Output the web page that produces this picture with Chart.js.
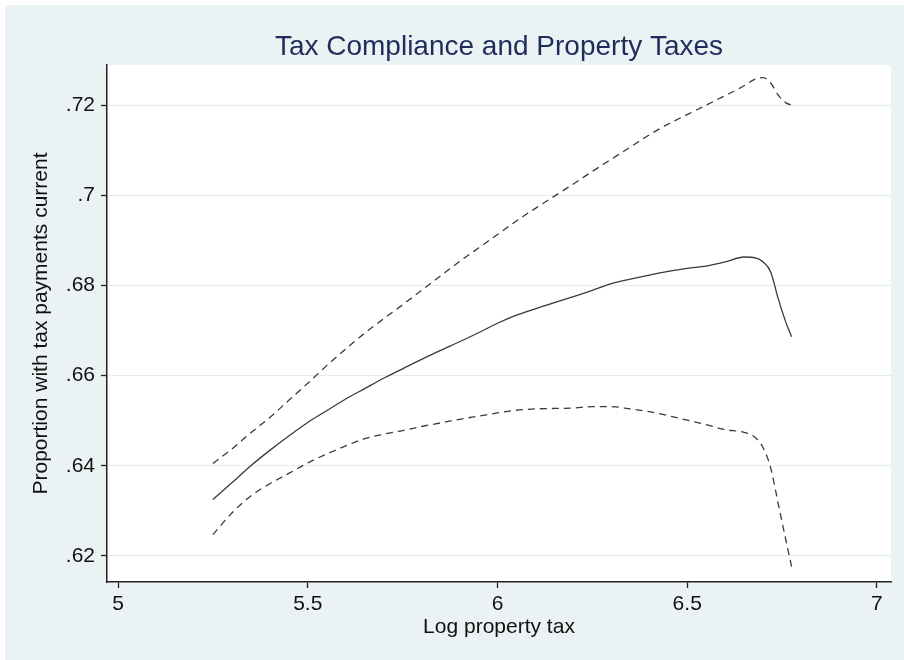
<!DOCTYPE html>
<html>
<head>
<meta charset="utf-8">
<script src="https://cdn.jsdelivr.net/npm/chart.js@4/dist/chart.umd.min.js"></script>
<style>
    html, body { margin: 0; padding: 0; background: #ffffff; }
    #wrap { position: absolute; left: 5px; top: 5px; width: 899px; height: 655px; }
</style>
</head>
<body>
<div id="wrap"><canvas id="taxChart" width="899" height="655"></canvas></div>
<script>
// Log property tax (x positions of the fitted curve)
const logTax = [5.25, 5.30, 5.35, 5.40, 5.45, 5.50, 5.55, 5.60, 5.65, 5.70, 5.75, 5.80,
    5.85, 5.90, 5.95, 6.00, 6.05, 6.10, 6.15, 6.20, 6.25, 6.30, 6.35, 6.40, 6.45, 6.50,
    6.55, 6.60, 6.65, 6.68, 6.70, 6.72, 6.74, 6.76, 6.775];

// upper band (dashed)
const upperBand = [.6405, .6437, .6473, .6507, .6545, .6583, .6622, .6659, .6694, .6726, .6757, .6789,
    .6821, .6853, .6883, .6913, .6943, .6971, .6998, .7025, .7053, .7080, .7107, .7134, .7158, .7179,
    .7200, .7221, .7243, .7258, .7261, .7249, .7222, .7205, .7200];

// fitted proportion (solid)
const fitted = [.6325, .6362, .6400, .6434, .6466, .6496, .6522, .6548, .6571, .6594, .6615, .6636,
    .6656, .6675, .6695, .6716, .6734, .6748, .6762, .6775, .6789, .6804, .6814, .6823, .6831, .6838,
    .6843, .6852, .6863, .6861, .6852, .6830, .6770, .6718, .6686];

// lower band (dashed)
const lowerBand = [.6247, .6295, .6333, .6360, .6383, .6406, .6426, .6444, .6460, .6470, .6478, .6487,
    .6495, .6503, .6510, .6517, .6523, .6526, .6527, .6528, .6531, .6531, .6526, .6520, .6511, .6501,
    .6491, .6480, .6474, .6462, .6440, .6395, .6315, .6235, .6176];

const xTicks = [5, 5.5, 6, 6.5, 7];
const yTicks = [.62, .64, .66, .68, .70, .72];
const yTickLabels = ['.62', '.64', '.66', '.68', '.7', '.72'];

const FONT = 'Liberation Sans, Arial, sans-serif';
const LINE = '#3a3a3a';
const AXIS = '#222222';

function pairs(ys) {
    return ys.map((y, i) => ({ x: logTax[i], y: y }));
}

// background: bluish gray outside, white plot region
const backdrop = {
    id: 'backdrop',
    beforeDraw(chart) {
        const ctx = chart.ctx;
        const a = chart.chartArea;
        ctx.save();
        ctx.fillStyle = '#eaf2f3';
        ctx.fillRect(0, 0, chart.width, chart.height);
        ctx.fillStyle = '#ffffff';
        ctx.fillRect(a.left, a.top, a.right - a.left, a.bottom - a.top);
        ctx.restore();
    }
};

const ctx = document.getElementById('taxChart').getContext('2d');
new Chart(ctx, {
    type: 'line',
    data: {
        datasets: [
            {
                label: 'Upper',
                data: pairs(upperBand),
                borderColor: LINE,
                borderWidth: 1.3,
                borderDash: [7, 5],
                pointRadius: 0,
                cubicInterpolationMode: 'monotone'
            },
            {
                label: 'Fitted',
                data: pairs(fitted),
                borderColor: LINE,
                borderWidth: 1.3,
                pointRadius: 0,
                cubicInterpolationMode: 'monotone'
            },
            {
                label: 'Lower',
                data: pairs(lowerBand),
                borderColor: LINE,
                borderWidth: 1.3,
                borderDash: [7, 5],
                pointRadius: 0,
                cubicInterpolationMode: 'monotone'
            }
        ]
    },
    options: {
        responsive: false,
        animation: false,
        devicePixelRatio: 1,
        layout: { padding: { top: 0, right: 13, bottom: 0, left: 0 } },
        plugins: {
            legend: { display: false },
            tooltip: { enabled: false },
            title: {
                display: true,
                fullSize: false,
                text: 'Tax Compliance and Property Taxes',
                color: '#1f2d5c',
                font: { family: FONT, size: 28, weight: 'normal' },
                padding: { top: 25, bottom: 1.4 }
            }
        },
        scales: {
            x: {
                type: 'linear',
                min: 4.971,
                max: 7.037,
                afterFit(scale) { scale.height = 78; },
                afterBuildTicks(scale) { scale.ticks = xTicks.map(v => ({ value: v })); },
                grid: { drawOnChartArea: false, drawTicks: true, tickLength: 6, tickColor: AXIS, tickWidth: 1.3 },
                border: { display: true, color: AXIS, width: 1.5 },
                ticks: {
                    color: '#111',
                    padding: 4,
                    maxRotation: 0,
                    font: { family: FONT, size: 21 },
                    callback: v => String(v)
                },
                title: {
                    display: true,
                    text: 'Log property tax',
                    color: '#111',
                    font: { family: FONT, size: 21 },
                    padding: { top: 0, bottom: 20 }
                }
            },
            y: {
                type: 'linear',
                min: 0.6142,
                max: 0.7289,
                afterFit(scale) { scale.width = 102; },
                afterBuildTicks(scale) { scale.ticks = yTicks.map(v => ({ value: v })); },
                grid: { color: '#e4ecee', lineWidth: 1, drawTicks: true, tickLength: 6, tickColor: AXIS, tickWidth: 1.3 },
                border: { display: true, color: AXIS, width: 1.5 },
                ticks: {
                    color: '#111',
                    padding: 6,
                    font: { family: FONT, size: 21 },
                    callback: (v, i) => yTickLabels[i]
                },
                title: {
                    display: true,
                    text: 'Proportion with tax payments current',
                    color: '#111',
                    font: { family: FONT, size: 21 },
                    padding: { top: 24, bottom: 0 }
                }
            }
        }
    },
    plugins: [backdrop]
});
</script>
</body>
</html>
